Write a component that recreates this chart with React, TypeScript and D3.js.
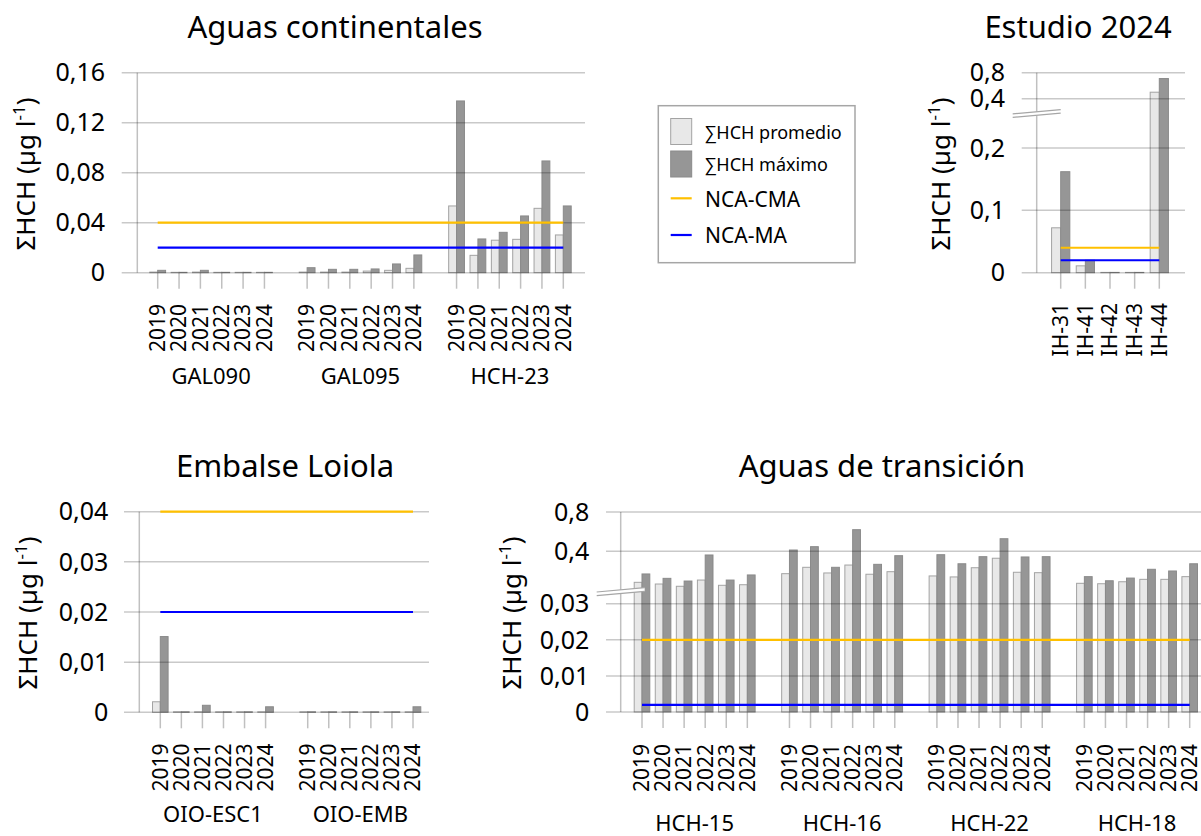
import React from "react";
import * as d3 from "d3";

const FONT = "'Noto Sans', 'Open Sans', sans-serif";

// ---------------- DATA ----------------
const years = ["2019", "2020", "2021", "2022", "2023", "2024"];

// Aguas continentales
const contSites = ["GAL090", "GAL095", "HCH-23"];
const contProm = [
  [0.0005, 0.0003, 0.0005, 0.0003, 0.0003, 0.0003],
  [0.0005, 0.0005, 0.0005, 0.0013, 0.0019, 0.0035],
  [0.0534, 0.0139, 0.026, 0.0267, 0.0515, 0.0302],
];
const contMax = [
  [0.0019, 0.0003, 0.0019, 0.0003, 0.0003, 0.0003],
  [0.004, 0.0027, 0.0027, 0.003, 0.007, 0.0142],
  [0.1374, 0.027, 0.0323, 0.0454, 0.0894, 0.0534],
];
const contTicks = [0, 0.04, 0.08, 0.12, 0.16];
const contDomain = [0, 0.16];
const contCMA = 0.04;
const contMA = 0.02;

// Estudio 2024
const estSites = ["IH-31", "IH-41", "IH-42", "IH-43", "IH-44"];
const estProm = [0.072, 0.011, 0.0005, 0.0005, 0.5];
const estMax = [0.162, 0.02, 0.0005, 0.0005, 0.71];
const estTicks = [0, 0.1, 0.2, 0.4, 0.8];
const estDomain = [0, 0.2, 0.4, 0.8];
const estBreak = 0.34;
const estCMA = 0.04;
const estMA = 0.02;

// Embalse Loiola
const loiSites = ["OIO-ESC1", "OIO-EMB"];
const loiProm = [
  [0.0021, 0.0001, 0.0001, 0.0001, 0.0001, 0.0001],
  [0.0001, 0.0001, 0.0001, 0.0001, 0.0001, 0.0001],
];
const loiMax = [
  [0.0151, 0.0001, 0.0014, 0.0001, 0.0001, 0.0011],
  [0.0001, 0.0001, 0.0001, 0.0001, 0.0001, 0.0011],
];
const loiTicks = [0, 0.01, 0.02, 0.03, 0.04];
const loiDomain = [0, 0.04];
const loiCMA = 0.04;
const loiMA = 0.02;

// Aguas de transición
const traSites = ["HCH-15", "HCH-16", "HCH-22", "HCH-18"];
const traProm = [
  [0.181, 0.169, 0.153, 0.197, 0.16, 0.164],
  [0.242, 0.287, 0.247, 0.303, 0.238, 0.256],
  [0.226, 0.219, 0.284, 0.351, 0.252, 0.249],
  [0.174, 0.171, 0.185, 0.202, 0.202, 0.221],
];
const traMax = [
  [0.24, 0.209, 0.19, 0.374, 0.197, 0.233],
  [0.413, 0.447, 0.287, 0.62, 0.308, 0.369],
  [0.376, 0.312, 0.362, 0.528, 0.36, 0.362],
  [0.221, 0.192, 0.211, 0.273, 0.261, 0.312],
];
const traTicks = [0, 0.01, 0.02, 0.03, 0.4, 0.8];
const traDomain = [0, 0.03, 0.4, 0.8];
const traBreak = 0.115;
const traCMA = 0.02;
const traMA = 0.002;

const legendItems = ["∑HCH promedio", "∑HCH máximo", "NCA-CMA", "NCA-MA"];

// ---------------- STYLE / LAYOUT ----------------
const C_LIGHT = "#e8e8e8";
const C_LIGHT_STROKE = "#a3a3a3";
const C_DARK = "#969696";
const C_DARK_STROKE = "#8a8a8a";
const C_GRID = "rgba(0,0,0,0.21)";
const C_AXIS = "#c0c0c0";
const C_CMA = "#FFC000";
const C_MA = "#0000FF";

const fmt = d3
  .formatLocale({ decimal: ",", thousands: ".", grouping: [3], currency: ["", "€"] })
  .format("~g");

type Slot = {
  key: string;
  gap?: boolean;
  label?: string;
  site?: string;
  prom?: number;
  max?: number;
};

function buildSlots(sites: string[], cats: string[], prom: number[][], max: number[][]): Slot[] {
  const slots: Slot[] = [];
  sites.forEach((s, i) => {
    if (i > 0) slots.push({ key: "gap" + i, gap: true });
    cats.forEach((c, j) =>
      slots.push({ key: s + "|" + c, label: c, site: s, prom: prom[i][j], max: max[i][j] })
    );
  });
  return slots;
}

type Layout = {
  axisX: number;
  gridStart: number;
  gridEnd: number;
  first: number;
  last: number;
  yRange: number[];
  tickRight: number;
  yearTop: number;
  groupBase: number;
  labelX: number;
  labelY: number;
  titleX: number;
  titleY: number;
};

const L_CONT: Layout = {
  axisX: 137.3, gridStart: 121.7, gridEnd: 585, first: 157.7, last: 563.3,
  yRange: [272.7, 72.7], tickRight: 105, yearTop: 304, groupBase: 384,
  labelX: 35, labelY: 174, titleX: 335, titleY: 37.5,
};
const L_EST: Layout = {
  axisX: 1036.7, gridStart: 1021.7, gridEnd: 1185, first: 1060.7, last: 1159.3,
  yRange: [272.7, 148, 98.7, 72.7], tickRight: 1005, yearTop: 303, groupBase: 384,
  labelX: 950, labelY: 174, titleX: 1078, titleY: 37.5,
};
const L_LOI: Layout = {
  axisX: 139.3, gridStart: 124, gridEnd: 429, first: 160.3, last: 413,
  yRange: [712.3, 511.7], tickRight: 108.3, yearTop: 743.5, groupBase: 821.7,
  labelX: 37, labelY: 613, titleX: 285, titleY: 476.5,
};
const L_TRA: Layout = {
  axisX: 620.7, gridStart: 606, gridEnd: 1212, first: 642, last: 1189.7,
  yRange: [712, 603.7, 551.3, 512], tickRight: 589.3, yearTop: 744, groupBase: 831,
  labelX: 521, labelY: 613, titleX: 882, titleY: 476.5,
};

function BreakMark({ ax, yb }: { ax: number; yb: number }) {
  const hl = 24;
  const s = 0.09;
  const g = 1.8;
  const pts = [
    [ax - hl, yb - g + s * hl],
    [ax + hl, yb - g - s * hl],
    [ax + hl, yb + g - s * hl],
    [ax - hl, yb + g + s * hl],
  ];
  return (
    <g>
      <polygon points={pts.map((p) => p.join(",")).join(" ")} fill="#ffffff" />
      <line x1={pts[0][0]} y1={pts[0][1]} x2={pts[1][0]} y2={pts[1][1]} stroke="#a6a6a6" strokeWidth={1.2} />
      <line x1={pts[3][0]} y1={pts[3][1]} x2={pts[2][0]} y2={pts[2][1]} stroke="#a6a6a6" strokeWidth={1.2} />
    </g>
  );
}

function Panel(props: {
  title: string;
  slots: Slot[];
  ticks: number[];
  domain: number[];
  cma: number;
  ma: number;
  L: Layout;
  breakAt?: number;
}) {
  const { title, slots, ticks, domain, cma, ma, L, breakAt } = props;
  const x = d3.scalePoint<string>().domain(slots.map((d) => d.key)).range([L.first, L.last]);
  const step = x.step();
  const bw = step * 0.37;
  const y = d3.scaleLinear().domain(domain).range(L.yRange);
  const y0 = y(0);
  const yTop = y(domain[domain.length - 1]);
  const data = slots.filter((d) => !d.gap);
  const xa = x(data[0].key)!;
  const xb = x(data[data.length - 1].key)!;
  const sites = Array.from(new Set(data.map((d) => d.site!))).filter((s) => s !== "");

  return (
    <g>
      <text x={L.titleX} y={L.titleY} textAnchor="middle" fontSize={31} fontFamily={FONT} fill="#000">
        {title}
      </text>
      {/* y tick labels */}
      {ticks.map((t) => (
        <text key={"tl" + t} x={L.tickRight} y={y(t)} dy="0.35em" textAnchor="end" fontSize={25} fontFamily={FONT} fill="#000">
          {fmt(t)}
        </text>
      ))}
      {/* axis */}
      <line x1={L.axisX} x2={L.axisX} y1={yTop} y2={y0} stroke={C_AXIS} strokeWidth={1.5} />
      {/* category ticks */}
      {data.map((d) => (
        <line key={"ct" + d.key} x1={x(d.key)} x2={x(d.key)} y1={y0} y2={y0 + 16} stroke={C_AXIS} strokeWidth={1.5} />
      ))}
      {/* bars */}
      {data.map((d) => {
        const cx = x(d.key)!;
        const yp = y(d.prom!);
        const ym = y(d.max!);
        return (
          <g key={"b" + d.key}>
            <rect x={cx - bw} y={yp} width={bw} height={Math.max(0, y0 - yp)} fill={C_LIGHT} stroke={C_LIGHT_STROKE} strokeWidth={1} />
            <rect x={cx} y={ym} width={bw} height={Math.max(0, y0 - ym)} fill={C_DARK} stroke={C_DARK_STROKE} strokeWidth={1} />
          </g>
        );
      })}
      {/* gridlines */}
      {ticks.map((t) => (
        <line key={"g" + t} x1={L.gridStart} x2={L.gridEnd} y1={y(t)} y2={y(t)} stroke={C_GRID} strokeWidth={1.5} />
      ))}
      {/* thresholds */}
      <line x1={xa} x2={xb} y1={y(cma)} y2={y(cma)} stroke={C_CMA} strokeWidth={2.2} />
      <line x1={xa} x2={xb} y1={y(ma)} y2={y(ma)} stroke={C_MA} strokeWidth={2.2} />
      {breakAt !== undefined && <BreakMark ax={L.axisX} yb={y(breakAt)} />}
      {/* x labels */}
      {data.map((d) => (
        <text
          key={"xl" + d.key}
          transform={`translate(${x(d.key)},${L.yearTop}) rotate(-90)`}
          dy="0.35em"
          textAnchor="end"
          fontSize={21}
          fontFamily={FONT}
          fill="#000"
        >
          {d.label}
        </text>
      ))}
      {sites.map((s) => {
        const xs = data.filter((d) => d.site === s).map((d) => x(d.key)!);
        const cx = d3.mean(xs)!;
        return (
          <text key={"gl" + s} x={cx} y={L.groupBase} textAnchor="middle" fontSize={22} fontFamily={FONT} fill="#000">
            {s}
          </text>
        );
      })}
      {/* y label */}
      <text transform={`translate(${L.labelX},${L.labelY}) rotate(-90)`} textAnchor="middle" fontSize={26} fontFamily={FONT} fill="#000">
        ΣHCH (µg l<tspan dy={-10} fontSize={17}>-1</tspan>
        <tspan dy={10}>)</tspan>
      </text>
    </g>
  );
}

function Legend() {
  const bx = 658.3, by = 105.7, bwid = 196.7, bh = 157;
  const sx = 670.7, sw = 21;
  const tx = 705;
  return (
    <g>
      <rect x={bx} y={by} width={bwid} height={bh} fill="#fff" stroke="#a6a6a6" strokeWidth={1.5} />
      <rect x={sx} y={118.5} width={sw} height={26} fill={C_LIGHT} stroke={C_LIGHT_STROKE} strokeWidth={1} />
      <text x={tx} y={139} fontSize={18} fontFamily={FONT}>{legendItems[0]}</text>
      <rect x={sx} y={151} width={sw} height={26} fill={C_DARK} stroke={C_DARK_STROKE} strokeWidth={1} />
      <text x={tx} y={171} fontSize={18} fontFamily={FONT}>{legendItems[1]}</text>
      <line x1={sx} x2={sx + sw} y1={198.3} y2={198.3} stroke={C_CMA} strokeWidth={2.2} />
      <text x={tx} y={206.7} fontSize={21} fontFamily={FONT}>{legendItems[2]}</text>
      <line x1={sx} x2={sx + sw} y1={235} y2={235} stroke={C_MA} strokeWidth={2.2} />
      <text x={tx} y={243.3} fontSize={21} fontFamily={FONT}>{legendItems[3]}</text>
    </g>
  );
}

export default function App() {
  const contSlots = buildSlots(contSites, years, contProm, contMax);
  const estSlots = buildSlots([""], estSites, [estProm], [estMax]);
  const loiSlots = buildSlots(loiSites, years, loiProm, loiMax);
  const traSlots = buildSlots(traSites, years, traProm, traMax);
  return (
    <svg
      width={1201}
      height={836}
      viewBox="0 0 1201 836"
      style={{ position: "absolute", left: 0, top: 0, display: "block", background: "#fff" }}
    >
      <rect x={0} y={0} width={1201} height={836} fill="#fff" />
      <Panel title="Aguas continentales" slots={contSlots} ticks={contTicks} domain={contDomain} cma={contCMA} ma={contMA} L={L_CONT} />
      <Panel title="Estudio 2024" slots={estSlots} ticks={estTicks} domain={estDomain} cma={estCMA} ma={estMA} L={L_EST} breakAt={estBreak} />
      <Panel title="Embalse Loiola" slots={loiSlots} ticks={loiTicks} domain={loiDomain} cma={loiCMA} ma={loiMA} L={L_LOI} />
      <Panel title="Aguas de transición" slots={traSlots} ticks={traTicks} domain={traDomain} cma={traCMA} ma={traMA} L={L_TRA} breakAt={traBreak} />
      <Legend />
    </svg>
  );
}
